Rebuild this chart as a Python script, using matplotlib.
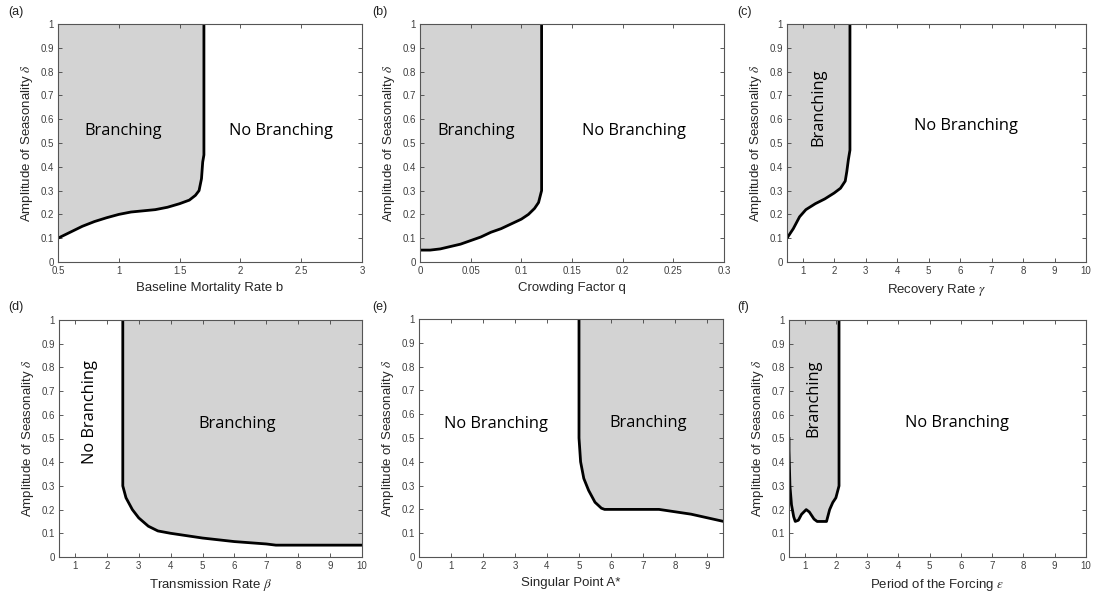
import matplotlib
matplotlib.use("Agg")
import matplotlib.pyplot as plt
from matplotlib.ticker import FuncFormatter

plt.rcParams["font.family"] = ["Liberation Sans", "DejaVu Sans"]
plt.rcParams["mathtext.fontset"] = "stix"

# boundary curves (x, delta)
a_x = [0.5, 0.6, 0.7, 0.8, 0.9, 1.0, 1.1, 1.2, 1.3, 1.4, 1.5, 1.58, 1.63, 1.66, 1.68, 1.69, 1.7, 1.7]
a_y = [0.10, 0.125, 0.15, 0.17, 0.186, 0.20, 0.21, 0.215, 0.22, 0.23, 0.245, 0.26, 0.28, 0.30, 0.35, 0.42, 0.45, 1.0]

b_x = [0.0, 0.01, 0.02, 0.03, 0.04, 0.05, 0.06, 0.07, 0.08, 0.09, 0.1, 0.107, 0.113, 0.117, 0.12, 0.12]
b_y = [0.05, 0.05, 0.055, 0.065, 0.075, 0.09, 0.105, 0.125, 0.14, 0.16, 0.18, 0.20, 0.225, 0.25, 0.30, 1.0]

c_x = [0.5, 0.7, 0.9, 1.1, 1.4, 1.7, 2.0, 2.2, 2.35, 2.4, 2.45, 2.5, 2.5]
c_y = [0.10, 0.14, 0.19, 0.22, 0.245, 0.265, 0.29, 0.31, 0.34, 0.38, 0.43, 0.47, 1.0]

d_x = [2.5, 2.5, 2.6, 2.8, 3.0, 3.3, 3.6, 4.0, 5.0, 6.0, 7.0, 7.3, 10.0]
d_y = [1.0, 0.30, 0.25, 0.20, 0.165, 0.13, 0.11, 0.10, 0.08, 0.065, 0.055, 0.05, 0.05]

e_x = [5.0, 5.0, 5.05, 5.15, 5.3, 5.5, 5.7, 5.8, 7.5, 8.0, 8.5, 9.0, 9.5]
e_y = [1.0, 0.50, 0.40, 0.33, 0.28, 0.23, 0.205, 0.20, 0.20, 0.19, 0.18, 0.165, 0.15]

f_x = [0.5, 0.5, 0.53, 0.58, 0.65, 0.7, 0.8, 0.9, 1.05, 1.15, 1.3, 1.4, 1.7, 1.8, 1.9, 2.0, 2.1, 2.1]
f_y = [0.50, 0.45, 0.30, 0.22, 0.17, 0.15, 0.155, 0.18, 0.20, 0.19, 0.16, 0.15, 0.15, 0.20, 0.23, 0.25, 0.30, 1.0]

fig = plt.figure(figsize=(10.94, 5.94), dpi=100)
W, H = 1094, 594


def make_ax(l, r, t, b):
    return fig.add_axes([l / W, 1 - b / H, (r - l) / W, (b - t) / H])


def style(ax, xlim, xticks, xlabel, label, lx, ly):
    ax.set_xlim(*xlim)
    ax.set_ylim(0, 1)
    ax.set_xticks(xticks)
    ax.set_yticks([i / 10 for i in range(11)])
    fmt = FuncFormatter(lambda v, p: "%g" % round(v, 4))
    ax.xaxis.set_major_formatter(fmt)
    ax.yaxis.set_major_formatter(fmt)
    ax.tick_params(direction="in", top=True, right=True, length=3, width=0.6,
                   labelsize=7, colors="#404040", pad=3)
    for s in ax.spines.values():
        s.set_color("#555555")
        s.set_linewidth(0.8)
    ax.set_xlabel(xlabel, fontsize=9.5, color="#262626", labelpad=4)
    ax.set_ylabel(r"Amplitude of Seasonality $\delta$", fontsize=9.5, color="#262626", labelpad=4)
    fig.text(lx / W, 1 - ly / H, label, fontsize=9, ha="left", va="center", color="#222222")


def region(ax, xs, ys, cx, cy):
    ax.fill(xs + [cx], ys + [cy], color="#d3d3d3", lw=0, zorder=1)
    ax.plot(xs, ys, color="black", lw=2, zorder=2)


tf = dict(fontsize=11.8, family=["Open Sans", "DejaVu Sans"], ha="center", va="center")

ax = make_ax(58, 362, 24, 262)
region(ax, a_x, a_y, 0.5, 1.0)
style(ax, (0.5, 3), [0.5, 1, 1.5, 2, 2.5, 3], "Baseline Mortality Rate b", "(a)", 8, 12)
ax.text(1.04, 0.55, "Branching", **tf)
ax.text(2.33, 0.55, "No Branching", **tf)

ax = make_ax(420, 724, 24, 262)
region(ax, b_x, b_y, 0.0, 1.0)
style(ax, (0, 0.3), [0, 0.05, 0.1, 0.15, 0.2, 0.25, 0.3], "Crowding Factor q", "(b)", 372, 12)
ax.text(0.055, 0.55, "Branching", **tf)
ax.text(0.211, 0.55, "No Branching", **tf)

ax = make_ax(787, 1086, 24, 262)
region(ax, c_x, c_y, 0.5, 1.0)
style(ax, (0.5, 10), list(range(1, 11)), r"Recovery Rate $\gamma$", "(c)", 737, 12)
ax.text(1.5, 0.65, "Branching", rotation=90, **tf)
ax.text(6.2, 0.57, "No Branching", **tf)

ax = make_ax(59, 362, 320, 557)
region(ax, d_x, d_y, 10.0, 1.0)
style(ax, (0.5, 10), list(range(1, 11)), r"Transmission Rate $\beta$", "(d)", 8, 307)
ax.text(1.47, 0.61, "No Branching", rotation=90, **tf)
ax.text(6.08, 0.56, "Branching", **tf)

ax = make_ax(419, 723, 319, 557)
region(ax, e_x, e_y, 9.5, 1.0)
style(ax, (0, 9.5), list(range(0, 10)), "Singular Point A*", "(e)", 372, 307)
ax.text(2.4, 0.56, "No Branching", **tf)
ax.text(7.16, 0.565, "Branching", **tf)

ax = make_ax(789, 1086, 320, 557)
region(ax, f_x, f_y, 0.5, 1.0)
style(ax, (0.5, 10), list(range(1, 11)), r"Period of the Forcing $\epsilon$", "(f)", 737, 307)
ax.text(1.28, 0.67, "Branching", rotation=90, **tf)
ax.text(5.86, 0.565, "No Branching", **tf)

fig.savefig("out.png", dpi=100)
